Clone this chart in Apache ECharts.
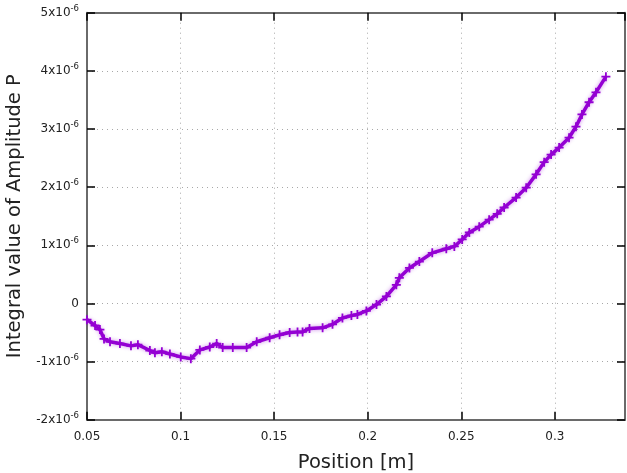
<!DOCTYPE html>
<html>
<head>
<meta charset="utf-8">
<script src="https://cdn.jsdelivr.net/npm/echarts@6/dist/echarts.min.js"></script>
<style>html,body{margin:0;padding:0;background:#fff}#c{width:627px;height:473px}</style>
</head>
<body>
<div id="c"></div>
<script>
// Position [m]
var positions = [0.0500,0.0543,0.0569,0.0591,0.0623,0.0676,0.0735,0.0772,0.0836,0.0863,0.0900,0.0943,0.1001,0.1055,0.1103,0.1156,0.1193,0.1225,0.1279,0.1353,0.1407,0.1476,0.1529,0.1583,0.1625,0.1652,0.1689,0.1759,0.1812,0.1865,0.1913,0.1945,0.1993,0.2047,0.2100,0.2153,0.2169,0.2223,0.2276,0.2345,0.2420,0.2463,0.2505,0.2543,0.2596,0.2649,0.2692,0.2729,0.2793,0.2847,0.2900,0.2943,0.2980,0.3023,0.3076,0.3113,0.3145,0.3183,0.3220,0.3273];
// Integral value of Amplitude P, in units of 1e-6
var integralMicro = [-0.28,-0.38,-0.45,-0.61,-0.66,-0.69,-0.73,-0.71,-0.81,-0.85,-0.83,-0.87,-0.92,-0.95,-0.80,-0.75,-0.69,-0.76,-0.76,-0.76,-0.66,-0.59,-0.54,-0.50,-0.49,-0.49,-0.43,-0.42,-0.36,-0.25,-0.21,-0.19,-0.13,-0.02,0.12,0.32,0.44,0.61,0.72,0.87,0.94,0.98,1.10,1.22,1.32,1.44,1.54,1.65,1.82,1.99,2.22,2.43,2.56,2.68,2.85,3.04,3.25,3.46,3.63,3.90];
var xTickLabels = ['0.05','0.1','0.15','0.2','0.25','0.3'];
var yExponentLabel = '-6';

var data = positions.map(function(x,i){return [x, integralMicro[i]];});
var font = 'DejaVu Sans';
var chart = echarts.init(document.getElementById('c'), null, {renderer:'canvas'});
var gridLine = {show:true, lineStyle:{color:'#a8a8a8', type:[1,4], width:1}};
var border = {show:true, onZero:false, lineStyle:{color:'#6a6a6a', width:2}};
var tick = {show:true, inside:true, length:8, lineStyle:{color:'#000', width:1.5}};
chart.setOption({
  animation:false,
  grid:{left:87, right:2, top:12.7, bottom:53.3, containLabel:false, outerBoundsMode:'none'},
  xAxis:[{
    type:'value', min:0.05, max:0.3375, interval:0.05, position:'bottom',
    axisLine:border, axisTick:tick, splitLine:gridLine,
    axisLabel:{color:'#222', fontFamily:font, fontSize:12, margin:11, showMaxLabel:false,
      formatter:function(v){var k=Math.round(v/0.05)-1; return (Math.abs(v-(k+1)*0.05)<1e-9 && xTickLabels[k])?xTickLabels[k]:'';}},
    name:'Position [m]', nameLocation:'middle', nameGap:33,
    nameTextStyle:{fontFamily:font, fontSize:19.5, color:'#222'}
  },{
    type:'value', min:0.05, max:0.3375, interval:0.05, position:'top',
    axisLine:border, axisTick:tick, splitLine:{show:false}, axisLabel:{show:false}
  }],
  yAxis:[{
    type:'value', min:-2, max:5, interval:1, position:'left',
    axisLine:border, axisTick:tick, splitLine:gridLine,
    axisLabel:{color:'#222', fontFamily:font, fontSize:12, margin:8,
      formatter:function(v){ if(Math.abs(v)<1e-9) return '0'; return Math.round(v)+'x10{sup|'+yExponentLabel+'}';},
      rich:{sup:{fontSize:8.5, fontFamily:font, color:'#222', verticalAlign:'bottom', padding:[0,0,8,0]}}},
    name:'Integral value of Amplitude P', nameLocation:'middle', nameGap:53, nameRotate:90,
    nameTextStyle:{fontFamily:font, fontSize:19.5, color:'#222'}
  },{
    type:'value', min:-2, max:5, interval:1, position:'right',
    axisLine:border, axisTick:tick, splitLine:{show:false}, axisLabel:{show:false}
  }],
  series:[{
    type:'line', data:data, xAxisIndex:0, yAxisIndex:0,
    lineStyle:{color:'#9400D3', width:3.5, shadowColor:'rgba(148,0,211,0.45)', shadowBlur:4},
    itemStyle:{color:'#9400D3', borderColor:'#9400D3', borderWidth:1.8},
    symbol:'path://M5,0L5,10M0,5L10,5', symbolSize:9, showSymbol:true,
    emphasis:{disabled:true}
  }]
});
</script>
</body>
</html>
